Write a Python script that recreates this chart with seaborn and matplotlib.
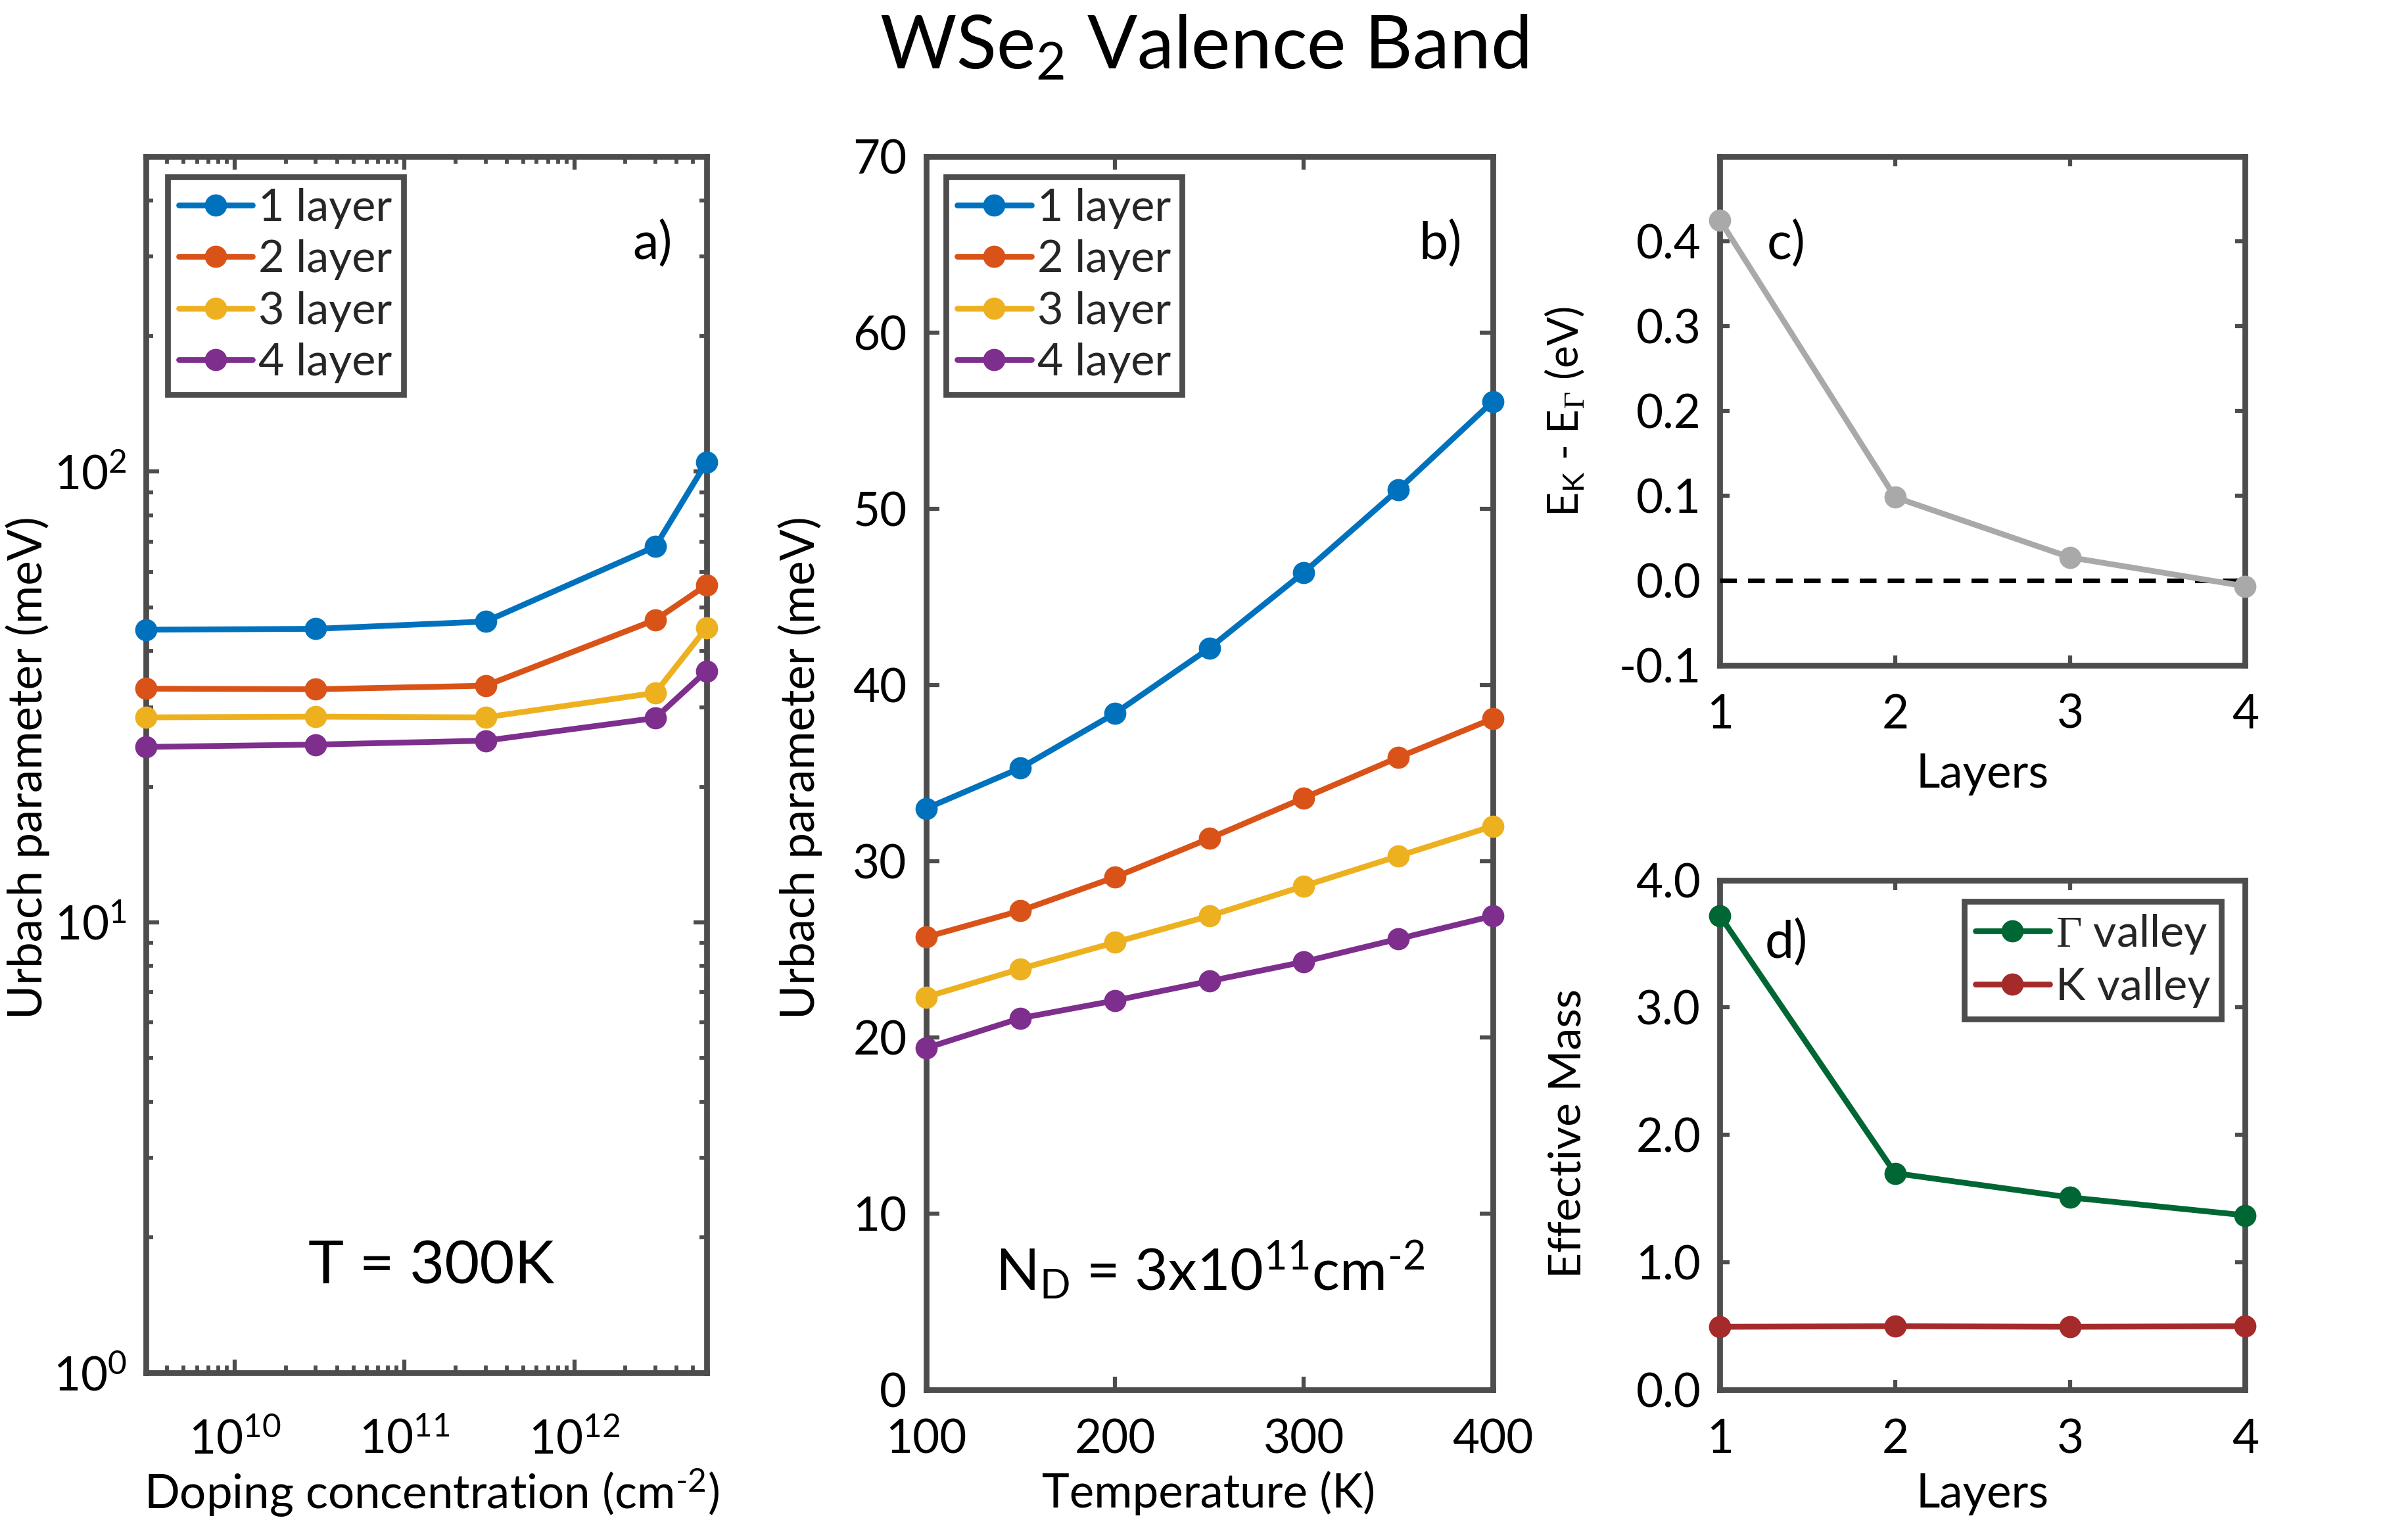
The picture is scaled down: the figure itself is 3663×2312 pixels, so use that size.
import numpy as np
import pandas as pd
import matplotlib
matplotlib.use("Agg")
import matplotlib.pyplot as plt
from matplotlib.ticker import LogLocator, NullFormatter, FormatStrFormatter
import seaborn as sns

# ---- data ----
layer_names = ["1 layer", "2 layer", "3 layer", "4 layer"]
doping = [3e9, 3e10, 3e11, 3e12, 6e12]
urbach_doping_1 = [44.6, 44.8, 46.5, 68.2, 104.9]
urbach_doping_2 = [33.0, 32.9, 33.5, 46.9, 56.0]
urbach_doping_3 = [28.5, 28.6, 28.5, 32.3, 45.0]
urbach_doping_4 = [24.5, 24.8, 25.3, 28.4, 36.1]
temperature = [100, 150, 200, 250, 300, 350, 400]
urbach_temp_1 = [33.0, 35.3, 38.4, 42.1, 46.4, 51.1, 56.1]
urbach_temp_2 = [25.7, 27.2, 29.1, 31.3, 33.6, 35.9, 38.1]
urbach_temp_3 = [22.3, 23.9, 25.4, 26.9, 28.6, 30.3, 32.0]
urbach_temp_4 = [19.4, 21.1, 22.1, 23.2, 24.3, 25.6, 26.9]
layers = [1, 2, 3, 4]
energy_diff = [0.425, 0.098, 0.027, -0.007]
mass_gamma = [3.72, 1.70, 1.51, 1.37]
mass_k = [0.495, 0.50, 0.495, 0.50]

# ---- style ----
sns.set_style("white")
FONT = "Lato"
plt.rcParams.update({
    "font.family": [FONT, "DejaVu Sans"],
    "mathtext.fontset": "custom",
    "mathtext.rm": FONT,
    "mathtext.it": FONT,
    "mathtext.bf": FONT,
    "mathtext.tt": "Liberation Serif",
    "mathtext.default": "rm",
    "axes.unicode_minus": False,
})
GREY = "#4d4d4d"
layer_colors = ["#0072BD", "#D95319", "#EDB120", "#7E2F8E"]
TS = 17.0
W, H = 1568.0, 989.7


def fx(x):
    return x / W


def fy(y):
    return 1 - y / H


fig = plt.figure(figsize=(3663 / 300, 2312 / 300), dpi=300, facecolor="white")


def make_axes(x0, x1, y0, y1, xpad):
    ax = fig.add_axes([fx(x0), fy(y1), fx(x1) - fx(x0), fy(y0) - fy(y1)])
    for s in ax.spines.values():
        s.set_linewidth(2.1)
        s.set_color(GREY)
    ax.tick_params(which="major", direction="in", top=True, right=True, length=3.5,
                   width=1.5, color=GREY, labelsize=TS, labelcolor="black", pad=7,
                   left=True, bottom=True)
    ax.tick_params(axis="x", which="major", pad=xpad)
    ax.grid(False)
    return ax


def draw(ax, x, series, names, colors, legend=False):
    df = pd.DataFrame({
        "x": np.tile(x, len(names)),
        "y": np.concatenate(series),
        "series": np.repeat(names, len(x)),
    })
    sns.lineplot(data=df, x="x", y="y", hue="series", palette=colors, hue_order=names,
                 marker="o", markersize=8.1, markeredgewidth=0, linewidth=2.1, ax=ax,
                 errorbar=None, clip_on=False, zorder=5, legend=legend)


def labels(ax, xl, xpos, yl, ypos, ysize=TS):
    ax.set_xlabel(xl, fontsize=TS, color="black")
    ax.set_ylabel(yl, fontsize=ysize, color="black")
    ax.xaxis.set_label_coords(fx(xpos[0]), fy(xpos[1]), transform=fig.transFigure)
    ax.yaxis.set_label_coords(fx(ypos[0]), fy(ypos[1]), transform=fig.transFigure)
    ax.xaxis.label.set_verticalalignment("center")
    ax.yaxis.label.set_verticalalignment("center")


def box_legend(ax, x0, y0):
    h, l = ax.get_legend_handles_labels()
    leg = ax.legend(h, l, loc="upper left", fontsize=16.4, frameon=True, fancybox=False,
                    framealpha=1, edgecolor=GREY, facecolor="white",
                    bbox_to_anchor=(fx(x0), fy(y0)), bbox_transform=fig.transFigure,
                    borderaxespad=0, borderpad=0.25, labelspacing=0.24,
                    handlelength=1.65, handletextpad=0.13)
    leg.get_frame().set_linewidth(2.1)
    leg.set_zorder(6)
    return leg


def note(x, y, s, size=19):
    fig.text(fx(x), fy(y), s, fontsize=size, ha="center", va="center", color="black", zorder=10)


# panel a
ax = make_axes(95, 460, 102, 894, 16.5)
draw(ax, doping, [urbach_doping_1, urbach_doping_2, urbach_doping_3, urbach_doping_4],
     layer_names, layer_colors, legend=True)
ax.set_xscale("log")
ax.set_yscale("log")
ax.set_xlim(3e9, 6e12)
ax.set_ylim(1, 500)
ax.xaxis.set_major_locator(LogLocator(base=10, numticks=20))
ax.xaxis.set_minor_locator(LogLocator(base=10, subs=np.arange(2, 10), numticks=20))
ax.xaxis.set_minor_formatter(NullFormatter())
ax.yaxis.set_major_locator(LogLocator(base=10, numticks=20))
ax.yaxis.set_minor_locator(LogLocator(base=10, subs=np.arange(2, 10), numticks=20))
ax.yaxis.set_minor_formatter(NullFormatter())
ax.tick_params(which="major", length=4.8)
ax.tick_params(which="minor", direction="in", top=True, right=True, left=True, bottom=True,
               length=2.6, width=1.4, color=GREY)
labels(ax, "Doping concentration (cm$^{\\text{-}2}$)", (281, 972), "Urbach parameter (meV)", (18, 500))
box_legend(ax, 109, 115)
note(425, 159, "a)")
note(281, 825, "T = 300K", 22)

# panel b
ax = make_axes(603, 972, 102, 905, 10.4)
draw(ax, temperature, [urbach_temp_1, urbach_temp_2, urbach_temp_3, urbach_temp_4],
     layer_names, layer_colors, legend=True)
ax.set_xlim(100, 400)
ax.set_ylim(0, 70)
ax.set_xticks([100, 200, 300, 400])
ax.set_yticks(np.arange(0, 71, 10))
ax.tick_params(which="major", length=4.8)
labels(ax, "Temperature (K)", (787, 972), "Urbach parameter (meV)", (521, 500))
box_legend(ax, 616, 115)
note(938, 159, "b)")
note(788, 827, "N$_\\mathrm{D}$ = 3x10$^{11}$cm$^{\\text{-}2}$", 21)

# panel c
ax = make_axes(1120, 1462, 102, 433, 10.4)
draw(ax, layers, [energy_diff], ["diff"], ["#A9A9A9"])
ax.axhline(0, color="black", linestyle=(0, (3.6, 2.4)), linewidth=1.7, zorder=4)
ax.set_xlim(1, 4)
ax.set_ylim(-0.1, 0.5)
ax.set_xticks(layers)
ax.set_yticks([-0.1, 0, 0.1, 0.2, 0.3, 0.4])
ax.yaxis.set_major_formatter(FormatStrFormatter("%.1f"))
labels(ax, "Layers", (1291, 504), "E$_\\mathrm{K}$ - E$_{\\mathtt{\\Gamma}}$ (eV)", (1019, 268), 15.5)
note(1163, 159, "c)")

# panel d
ax = make_axes(1120, 1462, 573, 905, 10.4)
valley_names = ["$\\mathtt{\\Gamma}$ valley", "K valley"]
draw(ax, layers, [mass_gamma, mass_k], valley_names, ["#006633", "#A52A2A"], legend=True)
ax.set_xlim(1, 4)
ax.set_ylim(0, 4)
ax.set_xticks(layers)
ax.set_yticks([0, 1, 2, 3, 4])
ax.yaxis.set_major_formatter(FormatStrFormatter("%.1f"))
labels(ax, "Layers", (1291, 973), "Effective Mass", (1021, 738), 16.3)
box_legend(ax, 1279, 587)
note(1163, 614, "d)")

fig.text(fx(784), fy(31), "WSe$_2$ Valence Band", fontsize=27, ha="center", va="center", color="black")

fig.savefig("out.png", dpi=300, facecolor="white")
